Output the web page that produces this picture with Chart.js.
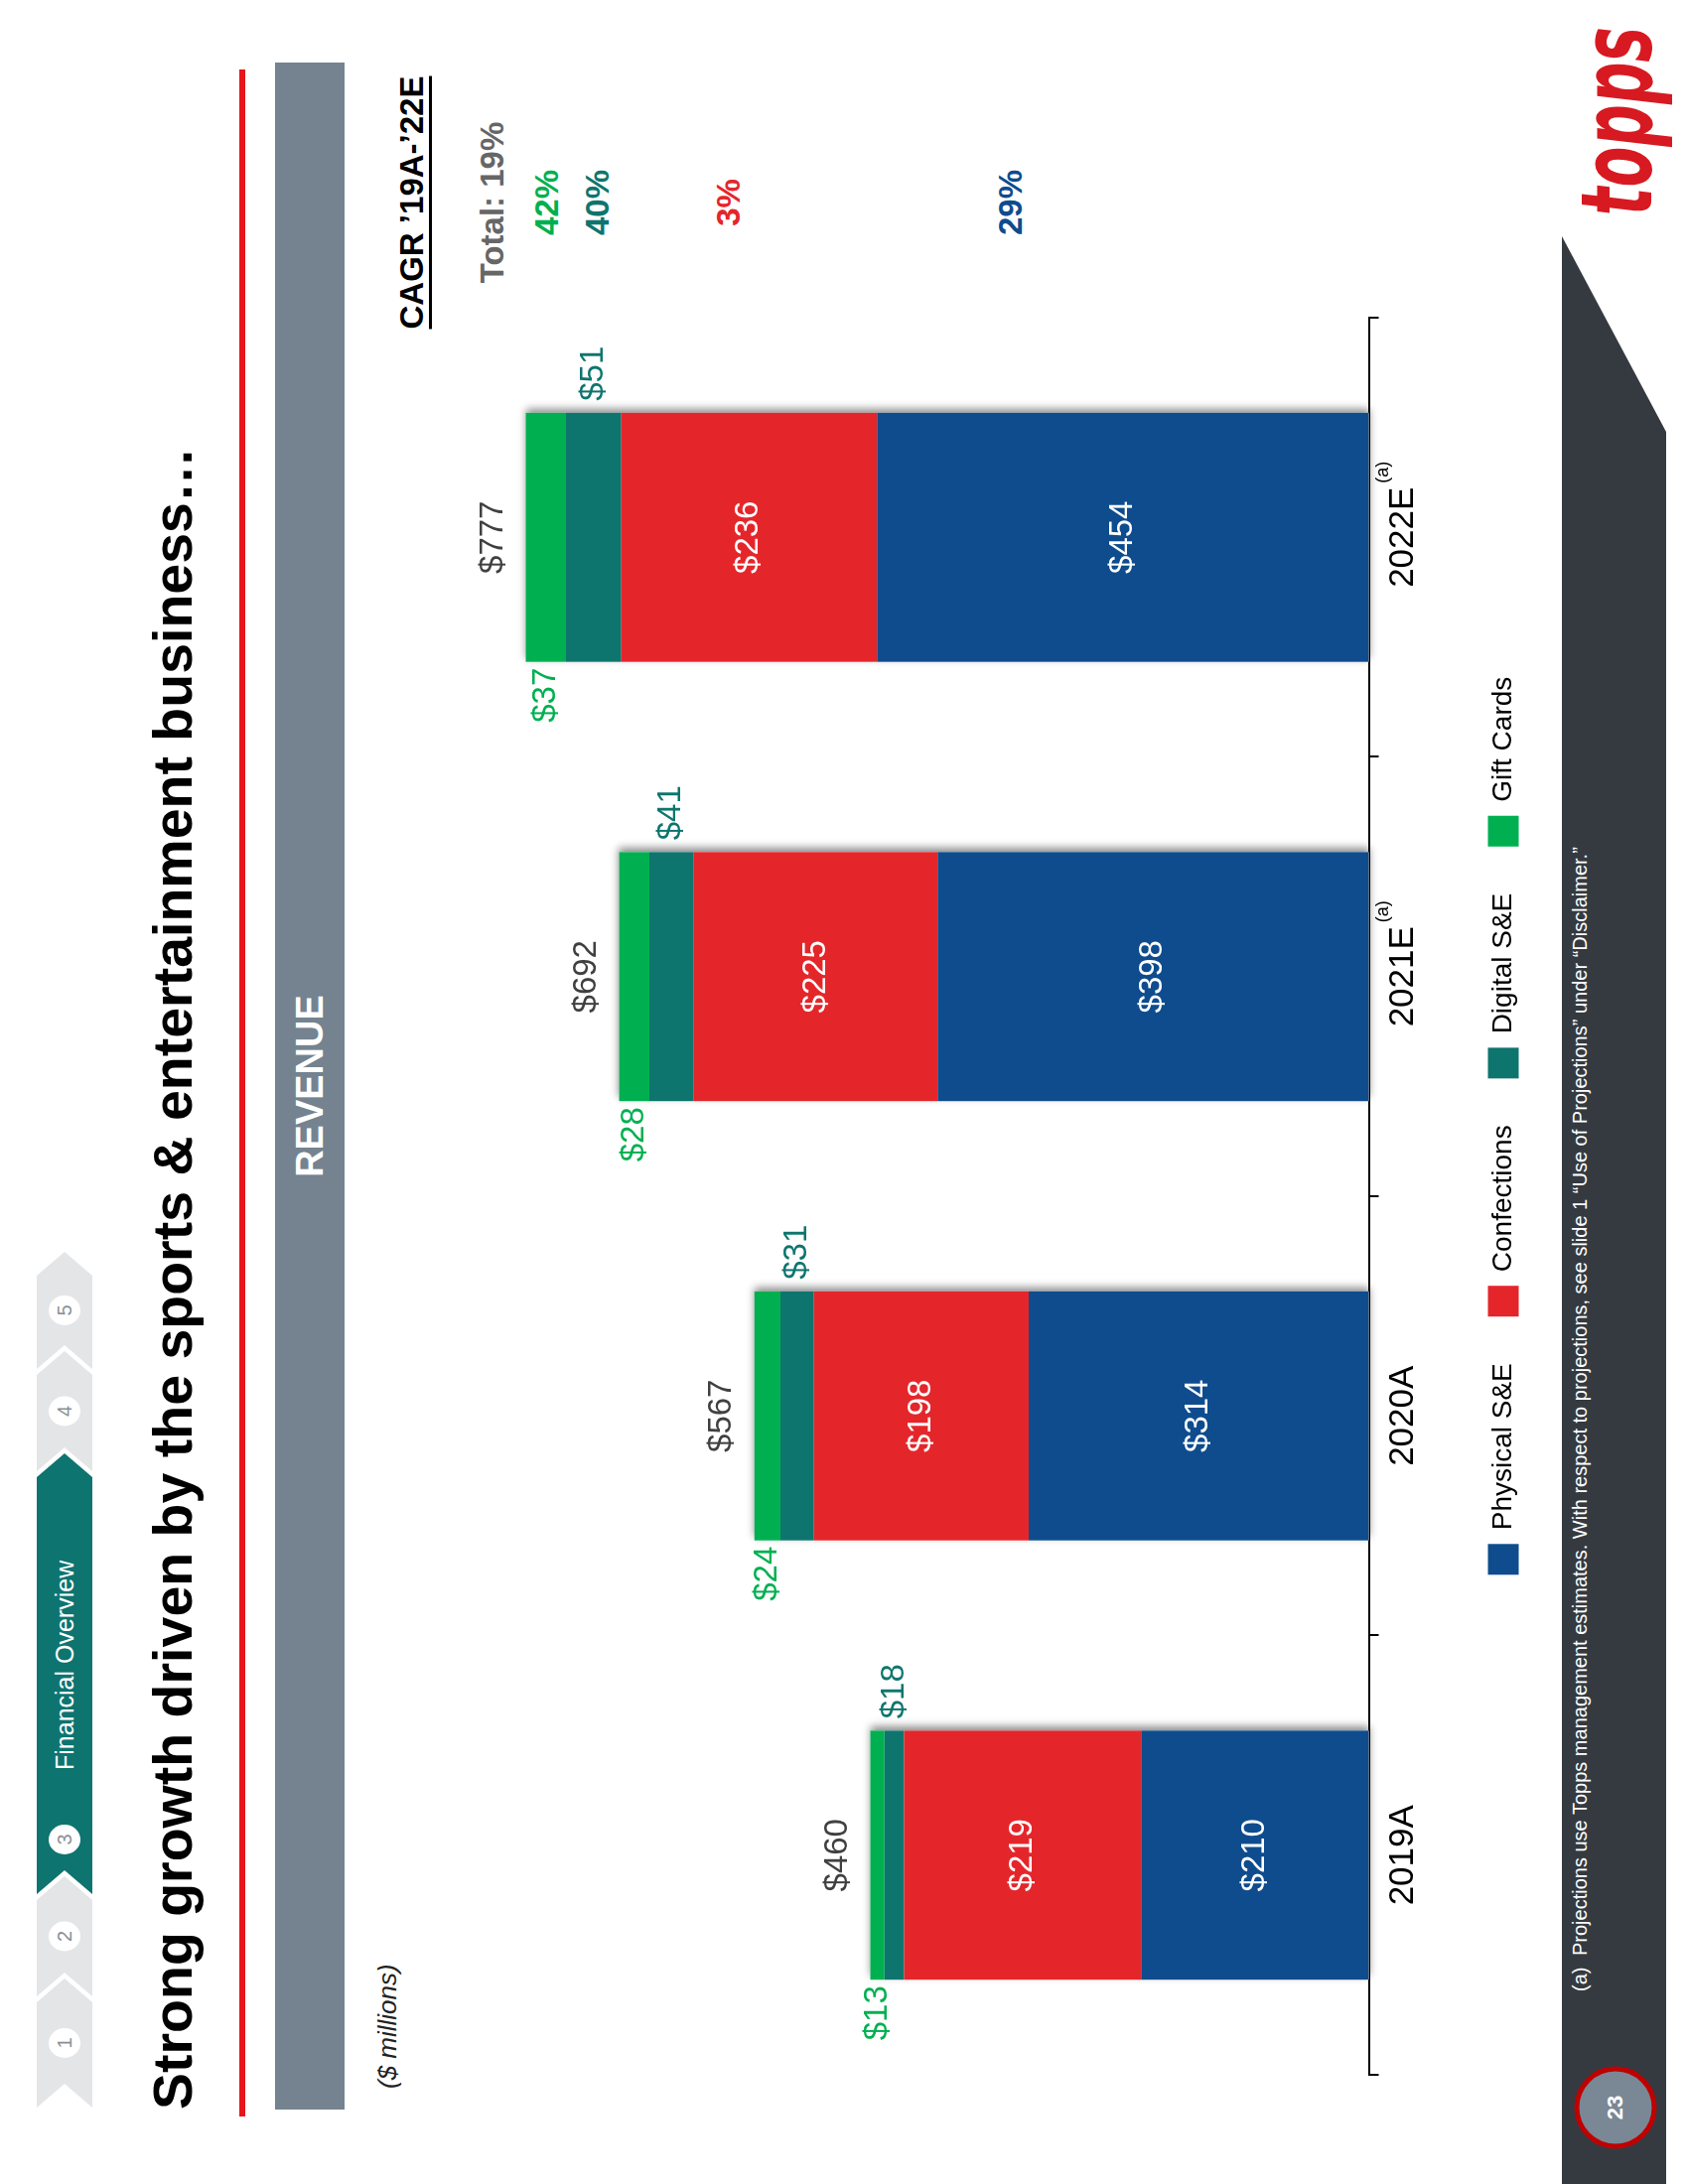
<!DOCTYPE html>
<html>
<head>
<meta charset="utf-8">
<script src="https://cdn.jsdelivr.net/npm/chart.js@4.4.1/dist/chart.umd.min.js"></script>
<style>
  html, body { margin: 0; padding: 0; background: #fff; }
  body { width: 1700px; height: 2200px; position: relative; overflow: hidden; font-family: "Liberation Sans", Arial, sans-serif; }
  /* the slide is built in landscape and turned a quarter to the left */
  #slide { position: absolute; left: 0; top: 0; width: 2200px; height: 1700px; transform-origin: 0 0; transform: translateY(2200px) rotate(-90deg); }
  .abs { position: absolute; white-space: nowrap; line-height: 1; }
  #chartBox { position: absolute; left: 100px; top: 303px; width: 1932px; height: 1260px; }
  .cagr { position: absolute; left: 1846px; width: 300px; text-align: center; font-size: 33px; font-weight: bold; line-height: 1; }
</style>
</head>
<body>
<div id="slide">
  <svg class="abs" style="left:0;top:0" width="2200" height="1700">
    <!-- section chevrons -->
    <g id="nav"></g>
    <!-- footer band -->
    <polygon points="0,1573 1962,1573 1765,1678 0,1678" fill="#353A40"/>
    <circle cx="77" cy="1627" r="39" fill="#7A8794" stroke="#C00000" stroke-width="5"/>
    <text x="1983" y="1663" fill="#D71A21" font-family="DejaVu Sans" font-weight="bold" font-style="italic" font-size="100" textLength="190" lengthAdjust="spacingAndGlyphs">topps</text>
  </svg>
  <div class="abs" style="left:40px;top:1616px;width:74px;text-align:center;color:#fff;font-weight:bold;font-size:22px;">23</div>

  <div class="abs" style="left:75px;top:147px;font-size:55.5px;font-weight:bold;color:#000;">Strong growth driven by the sports &amp; entertainment business…</div>
  <div class="abs" style="left:68px;top:241px;width:2062px;height:6px;background:#E8151B;"></div>
  <div class="abs" style="left:75px;top:277px;width:2062px;height:70px;background:#74838F;color:#fff;font-weight:bold;font-size:38px;display:flex;align-items:center;justify-content:center;">REVENUE</div>
  <div class="abs" style="left:96px;top:377px;font-size:26px;font-style:italic;color:#222;">($ millions)</div>

  <div class="cagr" style="top:398px;color:#000;text-decoration:underline;text-decoration-thickness:3px;text-underline-offset:6px;">CAGR ’19A-’22E</div>
  <div class="cagr" style="top:479px;color:#666;">Total: 19%</div>
  <div class="cagr" style="top:534px;color:#00B050;">42%</div>
  <div class="cagr" style="top:585px;color:#0E756E;">40%</div>
  <div class="cagr" style="top:717px;color:#E4262B;">3%</div>
  <div class="cagr" style="top:1001px;color:#0E4C8E;">29%</div>

  <div id="chartBox"><canvas id="revenueChart" width="1932" height="1260"></canvas></div>

  <div class="abs" style="left:194px;top:1581px;font-size:20px;color:#fff;">(a)</div>
  <div class="abs" style="left:230px;top:1581px;font-size:20px;color:#fff;">Projections use Topps management estimates. With respect to projections, see slide 1 “Use of Projections” under “Disclaimer.”</div>
</div>

<script>
// chart data
const years = ['2019A', '2020A', '2021E', '2022E'];
const yearNotes = ['', '', '(a)', '(a)'];
const physical = [210, 314, 398, 454];
const confections = [219, 198, 225, 236];
const digital = [18, 31, 41, 51];
const giftCards = [13, 24, 28, 37];
const totals = [460, 567, 692, 777];

const sections = ['1', '2', '3', '4', '5'];
const activeSection = 'Financial Overview';

// chevrons at the top of the slide
function drawNav() {
    const g = document.getElementById('nav');
    const segs = [[77, 183], [189, 286], [292, 712], [718, 815], [821, 915]];
    const d = 24, top = 37, bot = 93, mid = 65;
    let html = '';
    segs.forEach((s, i) => {
        const [a, b] = s;
        const fill = i === 2 ? '#0D7470' : '#E4E5E7';
        html += `<polygon points="${a},${top} ${b},${top} ${b + d},${mid} ${b},${bot} ${a},${bot} ${a + d},${mid}" fill="${fill}"/>`;
        const cx = i === 2 ? 347 : (a + b) / 2 + 12;
        html += `<ellipse cx="${cx}" cy="${mid}" rx="15" ry="16" fill="#fff"/>`;
        html += `<text x="${cx}" y="${mid + 7}" text-anchor="middle" font-family="Liberation Sans" font-size="20" fill="#8A8F94">${sections[i]}</text>`;
        if (i === 2) {
            html += `<text x="417" y="${mid + 9}" font-family="Liberation Sans" font-size="25" fill="#fff">${activeSection}</text>`;
        }
    });
    g.innerHTML = html;
}
drawNav();

Chart.defaults.font.family = '"Liberation Sans", Arial, sans-serif';
Chart.defaults.color = '#000';

// soft shadow on the right side of every stacked bar
const barShadow = {
    id: 'barShadow',
    beforeDatasetsDraw(chart) {
        const ctx = chart.ctx;
        const bottom = chart.getDatasetMeta(0);
        const top = chart.getDatasetMeta(3);
        ctx.save();
        ctx.shadowColor = 'rgba(0, 0, 0, 0.45)';
        ctx.shadowBlur = 8;
        ctx.shadowOffsetX = 4;
        ctx.fillStyle = '#ffffff';
        top.data.forEach((bar, i) => {
            const b = bottom.data[i];
            ctx.fillRect(bar.x - bar.width / 2, bar.y, bar.width, b.base - bar.y);
        });
        ctx.restore();
    }
};

const barLabels = {
    id: 'barLabels',
    afterDatasetsDraw(chart) {
        const ctx = chart.ctx;
        ctx.save();
        ctx.font = '33px "Liberation Sans", Arial, sans-serif';
        ctx.textBaseline = 'middle';
        chart.data.datasets.forEach((ds, di) => {
            const meta = chart.getDatasetMeta(di);
            meta.data.forEach((bar, i) => {
                const mid = (bar.y + bar.base) / 2;
                const text = '$' + ds.data[i];
                if (di < 2) {
                    ctx.fillStyle = '#ffffff';
                    ctx.textAlign = 'center';
                    ctx.fillText(text, bar.x, mid);
                } else if (di === 2) {
                    ctx.fillStyle = ds.backgroundColor;
                    ctx.textAlign = 'left';
                    ctx.fillText(text, bar.x + bar.width / 2 + 12, mid);
                } else {
                    ctx.fillStyle = ds.backgroundColor;
                    ctx.textAlign = 'right';
                    ctx.fillText(text, bar.x - bar.width / 2 - 6, mid);
                }
            });
        });
        // totals above each stack
        const topMeta = chart.getDatasetMeta(3);
        ctx.fillStyle = '#404040';
        ctx.textAlign = 'center';
        topMeta.data.forEach((bar, i) => {
            ctx.fillText('$' + totals[i], bar.x, bar.y - 33);
        });
        // (a) marks next to the estimate years
        const xs = chart.scales.x;
        years.forEach((yr, i) => {
            if (!yearNotes[i]) return;
            ctx.font = '35px "Liberation Sans", Arial, sans-serif';
            const w = ctx.measureText(yr).width;
            ctx.font = '18px "Liberation Sans", Arial, sans-serif';
            ctx.fillStyle = '#000';
            ctx.textAlign = 'left';
            ctx.fillText(yearNotes[i], xs.getPixelForValue(i) + w / 2 + 4, xs.top + 15);
        });
        ctx.restore();
    }
};

const ctx = document.getElementById('revenueChart').getContext('2d');
const revenueChart = new Chart(ctx, {
    type: 'bar',
    data: {
        labels: years,
        datasets: [
            { label: 'Physical S&E', data: physical, backgroundColor: '#0E4C8E' },
            { label: 'Confections', data: confections, backgroundColor: '#E4262B' },
            { label: 'Digital S&E', data: digital, backgroundColor: '#0E756E' },
            { label: 'Gift Cards', data: giftCards, backgroundColor: '#00B050' }
        ]
    },
    options: {
        responsive: false,
        animation: false,
        devicePixelRatio: 1,
        datasets: {
            bar: { barPercentage: 0.567, categoryPercentage: 1 }
        },
        layout: {
            padding: { left: 10, right: 10, top: 93.5, bottom: 23.5 }
        },
        scales: {
            x: {
                stacked: true,
                grid: { display: true, drawOnChartArea: false, drawTicks: true, tickLength: 10, color: '#000', lineWidth: 2 },
                border: { display: true, color: '#000', width: 2 },
                ticks: { color: '#000', padding: 4, font: { size: 35 } },
                afterFit(scale) { scale.height += 13; }
            },
            y: {
                stacked: true,
                position: 'right',
                min: 0,
                max: 900,
                grid: { display: false },
                border: { display: false },
                ticks: { display: false },
                afterFit(scale) { scale.width = 142; }
            }
        },
        plugins: {
            legend: {
                display: true,
                position: 'bottom',
                labels: { boxWidth: 31, boxHeight: 31, padding: 47, color: '#000', font: { size: 28 } }
            },
            tooltip: { enabled: false }
        }
    },
    plugins: [barShadow, barLabels]
});
</script>
</body>
</html>
